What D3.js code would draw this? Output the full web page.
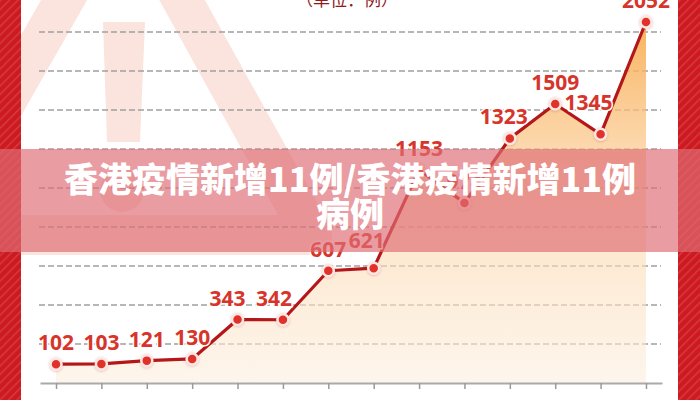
<!DOCTYPE html>
<html>
<head>
<meta charset="utf-8">
<script src="https://cdn.jsdelivr.net/npm/d3@7"></script>
<style>
     body { margin: 0; background: #fff; }
     svg { display: block; }
</style>
</head>
<body>
<div id="plot"></div>
<script>
// Daily new cases, one point per day
var days = ["2/1", "2/2", "2/3", "2/4", "2/5", "2/6", "2/7", "2/8", "2/9", "2/10", "2/11", "2/12", "2/13", "2/14"];
var cases = [102, 103, 121, 130, 343, 342, 607, 621, 1153, 974, 1323, 1509, 1345, 2052];
var gridSteps = [1, 2, 3, 4, 5, 6, 7, 8, 9];
var unitText = "（单位：例）";
var titleLines = ["香港疫情新增11例/香港疫情新增11例", "病例"];

var width = 700;
var height = 400;
var baseY = 383;

var svg = d3.select("#plot")
     .append("svg")
     .attr("width", width)
     .attr("height", height);

var defs = svg.append("defs");

// stripes for the red side bars
defs.append("pattern")
     .attr("id", "stripes")
     .attr("width", 6)
     .attr("height", 6)
     .attr("patternUnits", "userSpaceOnUse")
     .attr("patternTransform", "rotate(45)")
     .call(function(p) {
          p.append("rect").attr("width", 6).attr("height", 6).attr("fill", "#cd1a20");
          p.append("rect").attr("width", 1.5).attr("height", 6).attr("fill", "rgba(255,255,255,0.14)");
     });

// area gradient
var grad = defs.append("linearGradient")
     .attr("id", "areaGrad")
     .attr("gradientUnits", "userSpaceOnUse")
     .attr("x1", 0).attr("x2", 0)
     .attr("y1", 20).attr("y2", baseY);
grad.append("stop").attr("offset", 0).attr("stop-color", "#f8a84a").attr("stop-opacity", 0.9);
grad.append("stop").attr("offset", 0.5).attr("stop-color", "#fcd3a2").attr("stop-opacity", 0.6);
grad.append("stop").attr("offset", 1).attr("stop-color", "#fcefe0").attr("stop-opacity", 0.6);

defs.append("filter")
     .attr("id", "dotShadow")
     .attr("x", "-50%").attr("y", "-50%").attr("width", "200%").attr("height", "200%")
     .append("feDropShadow")
     .attr("dx", 0).attr("dy", 0.5).attr("stdDeviation", 1)
     .attr("flood-color", "#a33").attr("flood-opacity", 0.35);

// faint warning sign in the background
svg.append("path")
     .attr("d", "M124,-105 L-70,235 L312,235 Z")
     .attr("fill", "none")
     .attr("stroke", "#fbe4de")
     .attr("stroke-width", 40)
     .attr("stroke-linejoin", "round");
svg.append("path")
     .attr("d", "M103,22 L145,22 L140,142 L107,142 Z")
     .attr("fill", "#fbe4de");
svg.append("circle")
     .attr("cx", 122).attr("cy", 190).attr("r", 22)
     .attr("fill", "#fbe4de");

// red side bars
svg.append("rect").attr("x", 0).attr("y", 0).attr("width", 21).attr("height", height).attr("fill", "url(#stripes)");
svg.append("rect").attr("x", 678).attr("y", 0).attr("width", 22).attr("height", height).attr("fill", "url(#stripes)");

// scales
var x = d3.scalePoint()
     .domain(days)
     .range([40, 662])
     .padding(0.353);

var y = d3.scaleLinear()
     .domain([0, 1509, 2052])
     .range([baseY, 104, 22]);

var gridY = d3.scaleLinear()
     .domain([0, 9])
     .range([baseY, 32]);

// dashed grid
svg.append("g")
     .selectAll("line")
     .data(gridSteps)
     .enter()
     .append("line")
     .attr("x1", 39)
     .attr("x2", 661)
     .attr("y1", function(d) { return gridY(d); })
     .attr("y2", function(d) { return gridY(d); })
     .attr("stroke", "#a0a0a0")
     .attr("stroke-width", 1.5)
     .attr("stroke-dasharray", "6,3");

// area under line
svg.append("path")
     .datum(cases)
     .attr("fill", "url(#areaGrad)")
     .attr("d", d3.area()
          .x(function(d, i) { return x(days[i]); })
          .y0(baseY)
          .y1(function(d) { return y(d); }));

// x axis (labels fall below the picture)
var xAxis = svg.append("g")
     .attr("transform", "translate(0," + baseY + ")")
     .call(d3.axisBottom(x).tickSize(6).tickSizeOuter(0).tickFormat(""));
xAxis.select(".domain").attr("stroke", "#aaa").attr("stroke-width", 2);
xAxis.selectAll(".tick line").attr("stroke", "#999").attr("stroke-width", 1.5);

// line
svg.append("path")
     .datum(cases)
     .attr("fill", "none")
     .attr("stroke", "#b41719")
     .attr("stroke-width", 3.2)
     .attr("stroke-linejoin", "round")
     .attr("d", d3.line()
          .x(function(d, i) { return x(days[i]); })
          .y(function(d) { return y(d); }));

// markers
svg.append("g")
     .selectAll("circle")
     .data(cases)
     .enter()
     .append("circle")
     .attr("cx", function(d, i) { return x(days[i]); })
     .attr("cy", function(d) { return y(d); })
     .attr("r", 5.5)
     .attr("fill", "#e0322b")
     .attr("stroke", "#fde6e2")
     .attr("stroke-width", 2.5)
     .attr("filter", "url(#dotShadow)");

// value labels, a few pushed left/up so they clear the line
var labelShift = {4: -10, 5: -9, 7: -7, 10: -6, 12: -12};
var labelLift = {7: 20, 12: 24};
svg.append("g")
     .selectAll("text")
     .data(cases)
     .enter()
     .append("text")
     .attr("x", function(d, i) { return x(days[i]) + (labelShift[i] || 0); })
     .attr("y", function(d, i) { return y(d) - (labelLift[i] || 14); })
     .attr("text-anchor", "middle")
     .attr("font-family", "'Noto Sans', sans-serif")
     .attr("font-weight", "bold")
     .attr("font-size", 21)
     .attr("fill", "#d7352b")
     .attr("stroke", "#fff")
     .attr("stroke-width", 3)
     .attr("paint-order", "stroke")
     .text(function(d) { return d; });

// unit note, mostly cut off at the top
svg.append("text")
     .attr("x", 347)
     .attr("y", 6)
     .attr("text-anchor", "middle")
     .attr("font-family", "'Noto Sans CJK SC', sans-serif")
     .attr("font-size", 17)
     .attr("fill", "#8e1b1b")
     .text(unitText);

// title band
svg.append("rect")
     .attr("x", 0)
     .attr("y", 149)
     .attr("width", width)
     .attr("height", 103)
     .attr("fill", "rgb(222,109,117)")
     .attr("fill-opacity", 0.68);

svg.append("g")
     .selectAll("text")
     .data(titleLines)
     .enter()
     .append("text")
     .attr("x", 350)
     .attr("y", function(d, i) { return 192 + i * 35; })
     .attr("text-anchor", "middle")
     .attr("font-family", "'Noto Sans CJK SC', sans-serif")
     .attr("font-weight", 900)
     .attr("font-size", 34)
     .attr("fill", "#fff")
     .text(function(d) { return d; });
</script>
</body>
</html>
